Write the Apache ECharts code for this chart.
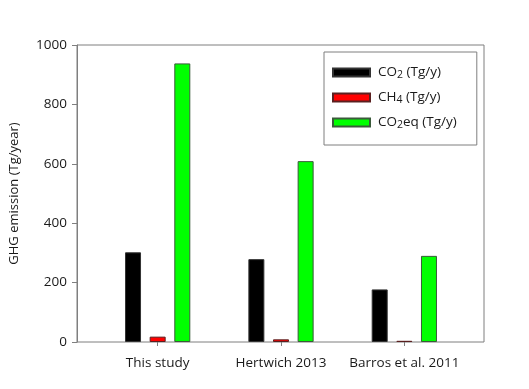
<!DOCTYPE html>
<html><head><meta charset="utf-8">
<script src="https://cdn.jsdelivr.net/npm/echarts@6/dist/echarts.min.js"></script>
<style>html,body{margin:0;padding:0;background:#fff}#c{width:529px;height:389px}</style>
</head><body><div id="c"></div>
<script>
const categories = ['This study', 'Hertwich 2013', 'Barros et al. 2011'];
const co2 = [302, 279, 177];
const ch4 = [18, 9, 4];
const co2eq = [938, 609, 290];
const yTicks = [0, 200, 400, 600, 800, 1000];
const seriesNames = ['CO2 (Tg/y)', 'CH4 (Tg/y)', 'CO2eq (Tg/y)'];

const chart = echarts.init(document.getElementById('c'));
const font = 'Open Sans';
const fs = 13.5;
const axisGray = '#7f7f7f';
const legendRich = {
  a: {fontFamily: font, fontSize: fs, color: '#1a1a1a'},
  s: {fontFamily: font, fontSize: 10.5, color: '#1a1a1a', verticalAlign: 'bottom', padding: [6, 0, 0, 0]}
};
function legendFmt(n) {
  if (n === seriesNames[0]) return '{a|CO}{s|2}{a| (Tg/y)}';
  if (n === seriesNames[1]) return '{a|CH}{s|4}{a| (Tg/y)}';
  return '{a|CO}{s|2}{a|eq (Tg/y)}';
}
const barW = 16;
function mk(name, data, color, border) {
  return {
    name, type: 'bar', data, xAxisIndex: 1, yAxisIndex: 1,
    barWidth: barW, barGap: '54%',
    itemStyle: {color, borderColor: border, borderWidth: 1}
  };
}
chart.setOption({
  animation: false,
  grid: [
    {left: 77, right: 45, top: 45, bottom: 47, show: true, borderColor: axisGray, borderWidth: 1, backgroundColor: 'transparent'},
    {left: 96, right: 63, top: 45, bottom: 47}
  ],
  xAxis: [
    {gridIndex: 0, type: 'value', min: 0, max: 1, show: false},
    {gridIndex: 1, type: 'category', data: categories,
     axisLine: {show: false},
     axisTick: {show: true, alignWithLabel: true, length: 4, lineStyle: {color: axisGray}},
     axisLabel: {fontFamily: font, fontSize: fs, color: '#1a1a1a', margin: 14, interval: 0}}
  ],
  yAxis: [
    {gridIndex: 0, type: 'value', min: 0, max: 1000, interval: 200,
     name: 'GHG emission (Tg/year)', nameLocation: 'middle', nameGap: 56, nameRotate: 90,
     nameTextStyle: {fontFamily: font, fontSize: 13, color: '#1a1a1a'},
     axisLine: {show: true, lineStyle: {color: axisGray}},
     axisTick: {show: true, length: 5, lineStyle: {color: axisGray}},
     splitLine: {show: false},
     axisLabel: {fontFamily: font, fontSize: fs, color: '#1a1a1a', margin: 10,
       formatter: v => yTicks.includes(v) ? String(v) : ''}},
    {gridIndex: 1, type: 'value', min: 0, max: 1000, show: false, splitLine: {show: false}}
  ],
  legend: {
    orient: 'vertical', left: 324, top: 52, width: 152,
    padding: [12, 20, 14, 8], itemGap: 8,
    borderColor: axisGray, borderWidth: 1,
    itemWidth: 37, itemHeight: 8, icon: 'rect',
    data: seriesNames,
    formatter: legendFmt,
    textStyle: {rich: legendRich, padding: [0, 0, 0, 3], lineHeight: 17}
  },
  series: [
    mk(seriesNames[0], co2, '#000000', '#333'),
    mk(seriesNames[1], ch4, '#ff0000', '#5a2020'),
    mk(seriesNames[2], co2eq, '#00ff00', '#3a5a3a')
  ]
});
</script></body></html>
